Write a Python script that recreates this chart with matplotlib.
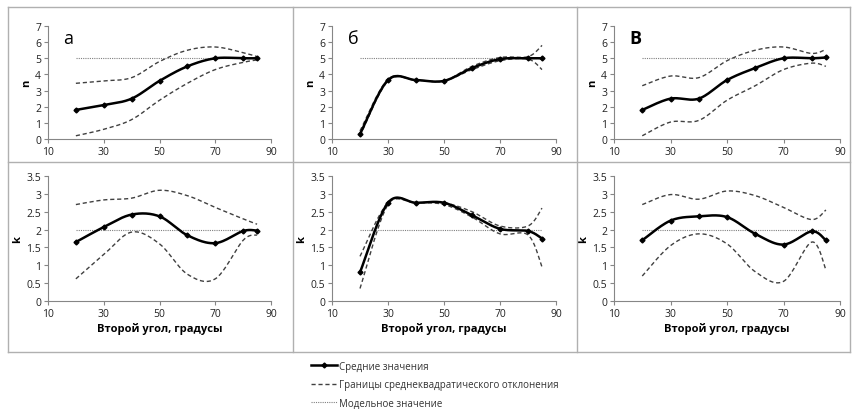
import numpy as np
import matplotlib
matplotlib.use('Agg')
import matplotlib.pyplot as plt
from matplotlib.lines import Line2D

plt.rcParams['font.family'] = ['Open Sans', 'DejaVu Sans']

# Second angle, degrees
angles = [20, 30, 40, 50, 60, 70, 80, 85]

# panel а
n_a_mean = [1.8, 2.1, 2.5, 3.6, 4.5, 5.0, 5.0, 5.0]
n_a_up = [3.45, 3.6, 3.8, 4.8, 5.5, 5.7, 5.35, 5.1]
n_a_low = [0.2, 0.6, 1.2, 2.4, 3.45, 4.3, 4.75, 4.9]
k_a_mean = [1.65, 2.07, 2.42, 2.37, 1.84, 1.62, 1.96, 1.97]
k_a_up = [2.7, 2.83, 2.88, 3.1, 2.95, 2.62, 2.3, 2.15]
k_a_low = [0.62, 1.3, 1.93, 1.6, 0.75, 0.62, 1.7, 1.85]

# panel б
n_b_mean = [0.3, 3.65, 3.65, 3.6, 4.4, 4.95, 5.0, 5.0]
n_b_up = [0.5, 3.7, 3.65, 3.6, 4.5, 5.05, 5.1, 5.8]
n_b_low = [0.2, 3.6, 3.65, 3.6, 4.3, 4.85, 4.95, 4.3]
k_b_mean = [0.8, 2.75, 2.75, 2.75, 2.4, 2.02, 1.96, 1.75]
k_b_up = [1.25, 2.75, 2.75, 2.75, 2.5, 2.1, 2.1, 2.6]
k_b_low = [0.35, 2.7, 2.75, 2.7, 2.35, 1.88, 1.85, 0.95]

# panel в
n_v_mean = [1.8, 2.5, 2.5, 3.65, 4.4, 5.0, 5.0, 5.05]
n_v_up = [3.3, 3.9, 3.8, 4.85, 5.5, 5.7, 5.3, 5.55]
n_v_low = [0.2, 1.05, 1.15, 2.4, 3.3, 4.3, 4.7, 4.5]
k_v_mean = [1.7, 2.25, 2.37, 2.35, 1.88, 1.58, 1.95, 1.7]
k_v_up = [2.7, 2.98, 2.85, 3.08, 2.95, 2.62, 2.28, 2.55]
k_v_low = [0.7, 1.55, 1.88, 1.6, 0.82, 0.55, 1.65, 0.88]

n_model = 5
k_model = 2
letters = ['а', 'б', 'В']
legend_labels = ['Средние значения',
                 'Границы среднеквадратического отклонения',
                 'Модельное значение']

W, H = 852, 410


def smooth(x, y, n=24):
    # Excel-like smoothed line (Catmull-Rom Bezier segments)
    pts = np.column_stack([x, y]).astype(float)
    P = np.vstack([pts[0], pts, pts[-1]])
    out = []
    t = np.linspace(0, 1, n)[:, None]
    for i in range(1, len(P) - 2):
        p0, p1, p2, p3 = P[i - 1], P[i], P[i + 1], P[i + 2]
        b1 = p1 + (p2 - p0) / 6
        b2 = p2 - (p3 - p1) / 6
        seg = (1 - t)**3 * p1 + 3 * (1 - t)**2 * t * b1 + 3 * (1 - t) * t**2 * b2 + t**3 * p2
        out.append(seg if i == 1 else seg[1:])
    c = np.vstack(out)
    return c[:, 0], c[:, 1]


def px_axes(l, t, r, b):
    return fig.add_axes([l / W, 1 - b / H, (r - l) / W, (b - t) / H])


fig = plt.figure(figsize=(W / 100, H / 100), dpi=100)

cols = [(48, 271), (332, 556), (614, 840)]
panels = [
    (n_a_mean, n_a_up, n_a_low, k_a_mean, k_a_up, k_a_low),
    (n_b_mean, n_b_up, n_b_low, k_b_mean, k_b_up, k_b_low),
    (n_v_mean, n_v_up, n_v_low, k_v_mean, k_v_up, k_v_low),
]

dash_style = dict(color='#404040', lw=1.0, dashes=(3, 2))
mean_style = dict(color='black', lw=1.8)
model_style = dict(color='#808080', lw=0.8, linestyle=(0, (1, 1)))

for ci, ((l, r), data) in enumerate(zip(cols, panels)):
    nm, nu, nl, km, ku, kl = data
    for row, (mean, up, low, model, ymax, step, lab) in enumerate([
            (nm, nu, nl, n_model, 7, 1, 'n'),
            (km, ku, kl, k_model, 3.5, 0.5, 'k')]):
        if row == 0:
            ax = px_axes(l, 27, r, 140)
        else:
            ax = px_axes(l, 177, r, 302)
        ax.plot([angles[0], angles[-1]], [model, model], **model_style)
        ax.plot(*smooth(angles, up), **dash_style)
        ax.plot(*smooth(angles, low), **dash_style)
        ax.plot(*smooth(angles, mean), **mean_style)
        ax.plot(angles, mean, 'D', color='black', ms=2.5)
        ax.set_xlim(10, 90)
        ax.set_ylim(0, ymax)
        ax.set_xticks([10, 30, 50, 70, 90])
        ax.set_yticks(np.arange(0, ymax + step / 2, step))
        ax.yaxis.set_major_formatter(matplotlib.ticker.FormatStrFormatter('%g'))
        for s in ['top', 'right']:
            ax.spines[s].set_visible(False)
        for s in ['left', 'bottom']:
            ax.spines[s].set_color('#868686')
            ax.spines[s].set_linewidth(0.8)
        ax.tick_params(labelsize=7.5, colors='#868686', labelcolor='#222222',
                       length=3, width=0.8, pad=2)
        ax.patch.set_alpha(0)
        ax.set_ylabel(lab, fontsize=8, fontweight='bold', labelpad=2)
        if row == 0:
            ax.text(0.07, 0.97, letters[ci], transform=ax.transAxes,
                    fontsize=13, fontweight='bold' if ci == 2 else 'normal',
                    va='top', ha='left')
        else:
            ax.set_xlabel('Второй угол, градусы', fontsize=8,
                          fontweight='bold', labelpad=2)

# grey frames around the six charts
fc = '#b0b0b0'
for x in [8, 293, 577, 850]:
    fig.add_artist(Line2D([x / W, x / W], [1 - 8 / H, 1 - 353 / H], color=fc, lw=1))
for y in [8, 163, 353]:
    fig.add_artist(Line2D([8 / W, 850 / W], [1 - y / H, 1 - y / H], color=fc, lw=1))

handles = [
    Line2D([], [], marker='D', ms=2.5, markevery=[1], **mean_style),
    Line2D([], [], **dash_style),
    Line2D([], [], **model_style),
]
fig.legend(handles, legend_labels, loc='upper left',
           bbox_to_anchor=(306 / W, 1 - 357 / H), frameon=False,
           fontsize=7, handlelength=2.7, handletextpad=0.2,
           labelspacing=0.75, borderpad=0, labelcolor='#333333')

fig.savefig('out.png', dpi=100)
